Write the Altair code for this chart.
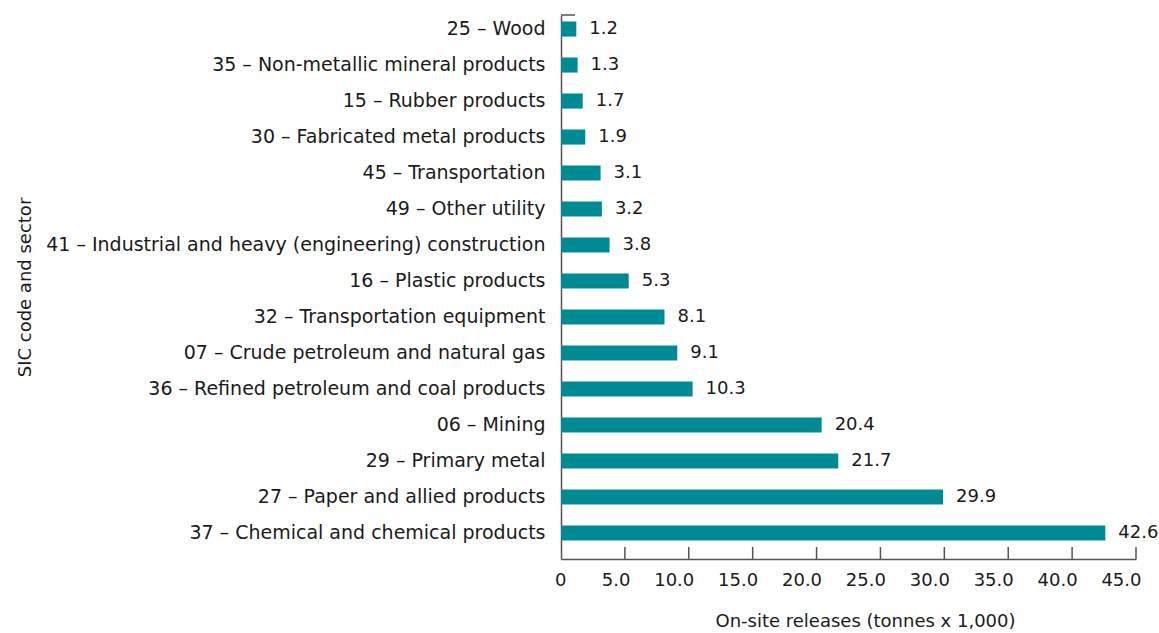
import altair as alt
import pandas as pd

sectors = [
    "25 – Wood",
    "35 – Non-metallic mineral products",
    "15 – Rubber products",
    "30 – Fabricated metal products",
    "45 – Transportation",
    "49 – Other utility",
    "41 – Industrial and heavy (engineering) construction",
    "16 – Plastic products",
    "32 – Transportation equipment",
    "07 – Crude petroleum and natural gas",
    "36 – Refined petroleum and coal products",
    "06 – Mining",
    "29 – Primary metal",
    "27 – Paper and allied products",
    "37 – Chemical and chemical products",
]
releases = [1.2, 1.3, 1.7, 1.9, 3.1, 3.2, 3.8, 5.3, 8.1, 9.1, 10.3, 20.4, 21.7, 29.9, 42.6]
tick_values = [0, 5, 10, 15, 20, 25, 30, 35, 40, 45]

df = pd.DataFrame({"sector": sectors, "value": releases})
ticks_df = pd.DataFrame({"t": tick_values[1:]})

FONT = "DejaVu Sans"
FS = 18
W, H = 575, 544
COLOR = "#008B94"
TXT = "#1a1a1a"

xscale = alt.Scale(domain=[0, 45], nice=False)
yscale = alt.Scale(paddingInner=0.58, paddingOuter=0.346, align=0.26)

x_enc = alt.X(
    "value:Q",
    scale=xscale,
    axis=alt.Axis(
        values=tick_values,
        ticks=False,
        grid=False,
        labelExpr="datum.value == 0 ? '0' : format(datum.value, '.1f')",
        labelAlign="right",
        labelOffset=5,
        labelPadding=12,
        labelFontSize=FS,
        labelFont=FONT,
        labelColor=TXT,
        labelOverlap=False,
        domainColor="#555555",
        domainWidth=1.5,
        title="On-site releases (tonnes x 1,000)",
        titleFont=FONT,
        titleFontSize=FS,
        titleFontWeight="normal",
        titleColor=TXT,
        titleX=304,
        titleY=62,
        titleBaseline="middle",
    ),
)

y_enc = alt.Y(
    "sector:N",
    sort=None,
    scale=yscale,
    axis=alt.Axis(
        ticks=False,
        grid=False,
        labelPadding=16,
        labelFontSize=19,
        labelFont=FONT,
        labelColor=TXT,
        labelLimit=700,
        domainColor="#555555",
        domainWidth=1.5,
        title="SIC code and sector",
        titleFont=FONT,
        titleFontSize=FS,
        titleFontWeight="normal",
        titleColor=TXT,
        titleX=-536,
        titleY=272,
        titleAngle=270,
        titleBaseline="middle",
        titleAlign="center",
    ),
)

bars = alt.Chart(df).mark_bar(color=COLOR).encode(x=x_enc, y=y_enc)

labels = alt.Chart(df).mark_text(
    align="left", baseline="middle", dx=13, font=FONT, fontSize=FS, color=TXT
).encode(
    x=alt.X("value:Q", scale=xscale),
    y=alt.Y("sector:N", sort=None, scale=yscale),
    text=alt.Text("value:Q", format=".1f"),
)

ticks = alt.Chart(ticks_df).mark_rule(color="#555555", strokeWidth=1.5).encode(
    x=alt.X("t:Q", scale=xscale),
    y=alt.value(H),
    y2=alt.value(H - 12),
)

corner = alt.Chart(ticks_df.head(1)).mark_rule(color="#555555", strokeWidth=1.5).encode(
    x=alt.value(0), x2=alt.value(14), y=alt.value(0)
)

chart = (
    alt.layer(bars, labels, ticks, corner)
    .properties(
        width=W,
        height=H,
        padding={"left": 561, "top": 15, "right": 23, "bottom": 74},
        autosize=alt.AutoSizeParams(type="none"),
        background="white",
    )
    .configure_view(stroke=None)
)

chart.save("out.html", embed_options={"renderer": "svg", "actions": False})
